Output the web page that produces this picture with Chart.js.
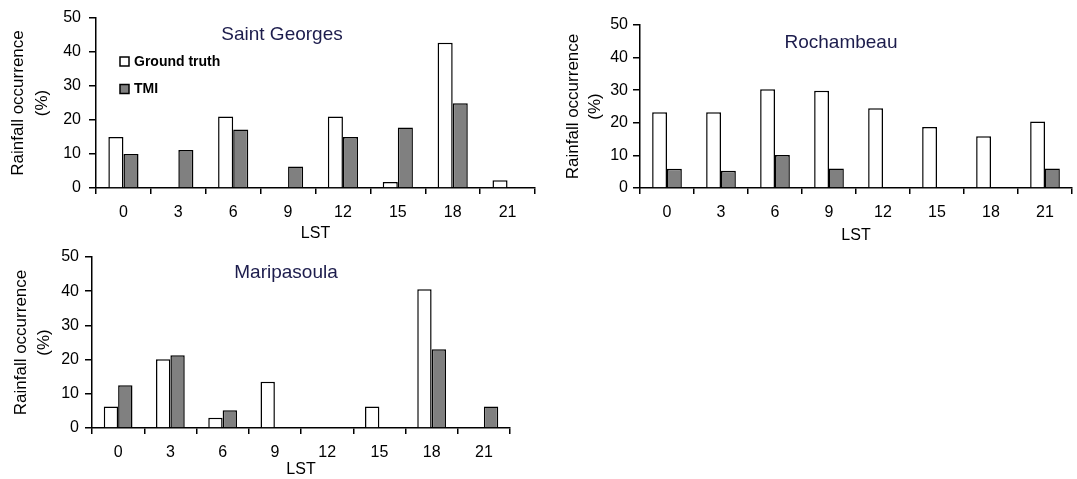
<!DOCTYPE html>
<html>
<head>
<meta charset="utf-8">
<script src="https://cdn.jsdelivr.net/npm/chart.js@4"></script>
<style>
  body { margin: 0; background: #fff; width: 1077px; height: 479px; position: relative; overflow: hidden; }
  canvas { position: absolute; }
</style>
</head>
<body>
<canvas id="graf1" width="545" height="245" style="left:0;top:0"></canvas>
<canvas id="graf2" width="532" height="245" style="left:545px;top:0"></canvas>
<canvas id="graf3" width="545" height="239" style="left:0;top:240px"></canvas>
<script>
// dados (ocorrencia de chuva em %)
const horas = ['0', '3', '6', '9', '12', '15', '18', '21'];

const sg_solo = [15, null, 21, null, 21, 1.8, 42.7, 2.3];
const sg_tmi = [10, 11.2, 17.2, 6.3, 15, 17.8, 24.9, null];

const roch_solo = [23.2, 23.2, 30.3, 29.8, 24.5, 18.7, 15.9, 20.4];
const roch_tmi = [5.9, 5.3, 10.1, 6, null, null, null, 6];

const mari_solo = [6.3, 20.1, 3.0, 13.5, null, 6.3, 40.6, null];
const mari_tmi = [12.5, 21.3, 5.2, null, null, null, 23, 6.3];

const FONTE = '"Liberation Sans", Arial, sans-serif';
Chart.defaults.font.family = FONTE;
Chart.defaults.color = '#000';

// titulo da estacao + legenda desenhados dentro da area do grafico
const titulo_legenda = {
  id: 'titulo_legenda',
  afterDraw(chart, args, opts) {
    const ctx = chart.ctx;
    ctx.save();
    ctx.font = '19px ' + FONTE;
    ctx.fillStyle = '#1c1c4c';
    ctx.textAlign = 'center';
    ctx.textBaseline = 'alphabetic';
    ctx.fillText(opts.texto, opts.x, opts.y);

    if (opts.legenda) {
      ctx.font = 'bold 14px ' + FONTE;
      ctx.textAlign = 'left';
      ctx.textBaseline = 'middle';
      chart.data.datasets.forEach((ds, i) => {
        const yy = opts.legenda.y[i];
        ctx.fillStyle = ds.backgroundColor;
        ctx.fillRect(opts.legenda.x, yy - 4.5, 9, 9);
        ctx.strokeStyle = '#000';
        ctx.lineWidth = 1.5;
        ctx.strokeRect(opts.legenda.x, yy - 4.5, 9, 9);
        ctx.fillStyle = '#000';
        ctx.fillText(ds.label, opts.legenda.x + 14, yy + 0.5);
      });
    }
    ctx.restore();
  }
};

function grafico(id, solo, tmi, g) {
  new Chart(document.getElementById(id), {
    type: 'bar',
    data: {
      labels: horas,
      datasets: [
        { label: 'Ground truth', data: solo, backgroundColor: '#ffffff', borderColor: '#000', borderWidth: 1.5,
          categoryPercentage: 0.55, barPercentage: 1 },
        { label: 'TMI', data: tmi, backgroundColor: '#808080', borderColor: '#000', borderWidth: 1.5,
          categoryPercentage: 0.55, barPercentage: 1 }
      ]
    },
    options: {
      responsive: false,
      animation: false,
      devicePixelRatio: 1,
      layout: { padding: { top: g.topo, right: g.direita, left: 0, bottom: 0 } },
      plugins: {
        legend: { display: false },
        tooltip: { enabled: false },
        titulo_legenda: g.titulo
      },
      scales: {
        x: {
          grid: { offset: true, drawOnChartArea: false, tickLength: 6, color: '#000', lineWidth: 1.5 },
          border: { color: '#000', width: 1.5 },
          ticks: { padding: 9, color: '#000', font: { size: 16 } },
          title: { display: true, text: 'LST', color: '#000', font: { size: 16, lineHeight: 1.2 },
                   padding: { top: 0, bottom: g.padLst } },
          afterFit: s => { s.height = g.altX; }
        },
        y: {
          min: 0,
          max: 50,
          ticks: { stepSize: 10, padding: g.padTick, color: '#000', font: { size: 16 } },
          grid: { drawOnChartArea: false, tickLength: 7, color: '#000', lineWidth: 1.5 },
          border: { color: '#000', width: 1.5 },
          title: { display: true, text: ['Rainfall occurrence', '(%)'], color: '#000',
                   font: { size: 17, lineHeight: g.lhTit }, padding: { top: g.padTit, bottom: 0 } },
          afterFit: s => { s.width = g.largY; }
        }
      }
    },
    plugins: [titulo_legenda]
  });
}

grafico('graf1', sg_solo, sg_tmi, {
  topo: 18, direita: 10, altX: 57, largY: 96, padTick: 8, padTit: 6.5, lhTit: 1.4, padLst: 2,
  titulo: { texto: 'Saint Georges', x: 282, y: 40, legenda: { x: 120, y: [61.5, 89] } }
});

grafico('graf2', roch_solo, roch_tmi, {
  topo: 25, direita: 5, altX: 57, largY: 95, padTick: 5, padTit: 17, lhTit: 1.3, padLst: 0,
  titulo: { texto: 'Rochambeau', x: 296, y: 48 }
});

grafico('graf3', mari_solo, mari_tmi, {
  topo: 17, direita: 35, altX: 51, largY: 92, padTick: 6, padTit: 9, lhTit: 1.4, padLst: 0,
  titulo: { texto: 'Maripasoula', x: 286, y: 38 }
});
</script>
</body>
</html>
